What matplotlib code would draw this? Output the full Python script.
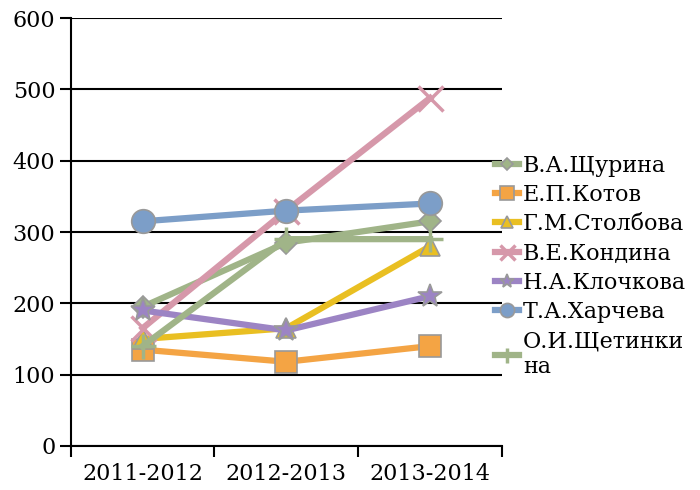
import numpy as np
import matplotlib.pyplot as plt

years = ['2011-2012', '2012-2013', '2013-2014']
names = ['В.А.Щурина', 'Е.П.Котов', 'Г.М.Столбова', 'В.Е.Кондина',
         'Н.А.Клочкова', 'Т.А.Харчева', 'О.И.Щетинки\nна']
shchurina = [195, 285, 315]
kotov = [135, 118, 140]
stolbova = [150, 165, 280]
kondina = [165, 330, 488]
klochkova = [190, 162, 210]
kharcheva = [315, 330, 340]
shchetinkina = [140, 290, 290]

series = [shchurina, kotov, stolbova, kondina, klochkova, kharcheva, shchetinkina]
colors = ['#a0b488', '#f4a444', '#e9bf22', '#d698aa', '#9c84c4', '#7c9ec8', '#a0b488']
markers = ['D', 's', '^', 'x', '*', 'o', '+']
msizes = [11, 16, 15, 18, 18, 17, 18]

plt.rcParams['font.family'] = ['DejaVu Serif']

fig = plt.figure(figsize=(7, 4.9), dpi=100)
ax = fig.add_axes([0.101, 0.09, 0.616, 0.873])

x = np.arange(len(years))
for vals, name, c, m, ms in zip(series, names, colors, markers, msizes):
    ax.plot(x, vals, color=c, lw=4.5, marker=m, markersize=ms,
            markerfacecolor=c, markeredgecolor='#999999' if m not in ('x', '+') else c,
            markeredgewidth=1.2 if m not in ('x', '+') else 2.5,
            label=name, zorder=3)

ax.set_ylim(0, 600)
ax.set_xlim(-0.5, 2.5)
ax.set_yticks(range(0, 601, 100))
ax.yaxis.grid(True, color='black', lw=1.5)
ax.set_axisbelow(True)
ax.set_xticks([-0.5, 0.5, 1.5, 2.5])
ax.set_xticklabels([])
ax.set_xticks(x, minor=True)
ax.set_xticklabels(years, minor=True)
ax.tick_params(axis='x', which='minor', length=0, pad=12, labelsize=16)
ax.tick_params(axis='x', which='major', length=8, width=1.5, direction='out')
ax.tick_params(axis='y', length=8, width=1.5, labelsize=16, pad=3)
for s in ['top', 'right']:
    ax.spines[s].set_visible(False)
for s in ['left', 'bottom']:
    ax.spines[s].set_linewidth(1.5)

ax.legend(loc='center left', bbox_to_anchor=(0.985, 0.42), frameon=False,
          fontsize=16, handlelength=1.05, handletextpad=0.2, labelspacing=0.33,
          markerscale=0.6, borderaxespad=0, borderpad=0)

fig.savefig('out.png', dpi=100)
